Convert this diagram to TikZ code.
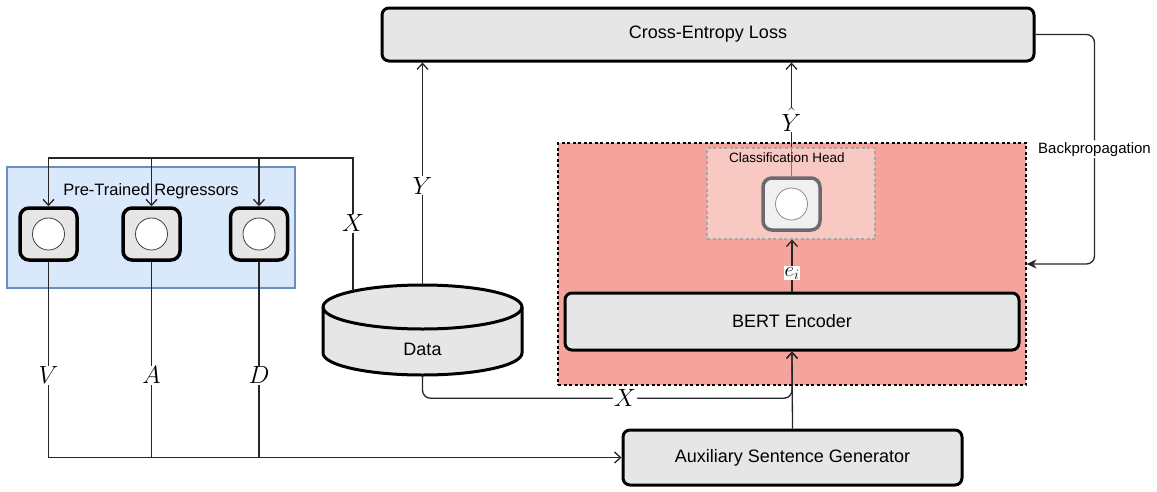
\documentclass[tikz,border=0pt]{standalone}
\usepackage[no-math]{fontspec}
\setmainfont{Liberation Sans}
\usetikzlibrary{arrows.meta}
\definecolor{boxgray}{HTML}{E6E6E6}
\definecolor{bluefill}{HTML}{DAE8FC}
\definecolor{bluebd}{HTML}{6C8EBF}
\definecolor{redfill}{HTML}{F4A49C}
\definecolor{nodegray}{HTML}{F0F0F0}
\pgfdeclarelayer{bg}
\pgfdeclarelayer{mid}
\pgfsetlayers{bg,mid,main}
\begin{document}
\begin{tikzpicture}[x=1pt,y=-1pt,
  box/.style={draw=black, line width=3pt, rounded corners=7pt, fill=boxgray,
    font=\fontsize{18}{21}\selectfont, inner sep=0pt},
  regbox/.style={draw=black, line width=3.5pt, rounded corners=9pt, fill=boxgray,
    minimum width=57pt, minimum height=52pt, inner sep=0pt},
  neuron/.style={circle, draw=black!75, line width=0.8pt, fill=white,
    minimum size=32pt, inner sep=0pt},
  conn/.style={line width=1.3pt, draw=black!85},
  arr/.style={conn, -{Straight Barb[length=6pt,width=11pt]}},
  mathlbl/.style={fill=white, inner sep=1pt, font=\fontsize{25}{25}\selectfont},
  grouplbl/.style={font=\fontsize{16.5}{18}\selectfont, inner sep=0pt},
]
\useasboundingbox (0,0) rectangle (1157,491);

% containers
\begin{pgfonlayer}{bg}
\node[draw=bluebd, line width=1.2pt, fill=bluefill, minimum width=288pt,
  minimum height=121pt, inner sep=0pt] (regs) at (151,227.5) {};
\node[draw=black, dash pattern=on 3pt off 2.5pt, line width=1.2pt, fill=redfill, minimum width=468pt,
  minimum height=242pt, inner sep=0pt] (enc) at (792,264) {};
\end{pgfonlayer}

\node[grouplbl] (regslbl) at (151,191) {Pre-Trained Regressors};

% main boxes
\node[box, minimum width=652pt, minimum height=53pt] (ce) at (708,34.5) {Cross-Entropy Loss};
\node[box, minimum width=454pt, minimum height=57pt] (bert) at (792,321.5) {BERT Encoder};
\node[box, minimum width=339pt, minimum height=55pt] (aux) at (792.5,457.5) {Auxiliary Sentence Generator};

% classification head
\node[draw=black!35, dash pattern=on 3pt off 2.5pt, line width=1.2pt, fill=white, fill opacity=0.4,
  draw opacity=1, minimum width=168pt, minimum height=91pt, inner sep=0pt] (clshead) at (791,193.5) {};
\node[font=\fontsize{13.5}{15}\selectfont, inner sep=0pt] (clslbl) at (787,158) {Classification Head};
\node[regbox, draw=black!58, fill=nodegray] (clsnode) at (791.5,204) {};
\node[neuron, draw=black!45] (clsn) at (clsnode.center) {};

% regressors
\node[regbox] (r1) at (48.5,234) {};
\node[regbox] (r2) at (151.5,234) {};
\node[regbox] (r3) at (259,234) {};
\node[neuron] (n1) at (r1.center) {};
\node[neuron] (n2) at (r2.center) {};
\node[neuron] (n3) at (r3.center) {};

% data cylinder
\draw[line width=3pt, fill=boxgray] (323,307) -- (323,353)
  arc[start angle=180, end angle=360, x radius=99.5pt, y radius=22pt] -- (522,307)
  arc[start angle=0, end angle=180, x radius=99.5pt, y radius=22pt] -- cycle;
\draw[line width=3pt] (323,307) arc[start angle=180, end angle=360, x radius=99.5pt, y radius=22pt];
\node[minimum width=199pt, minimum height=90pt, inner sep=0pt] (data) at (422.5,330) {};
\node[font=\fontsize{18}{21}\selectfont, inner sep=0pt] (datalbl) at (422.5,349) {Data};
\coordinate (xbase) at (353,291);

% connectors
\draw[arr] (xbase) -- node[mathlbl, pos=0.51] {$X$} (xbase |- 0,158) -| (r1.north);
\draw[arr] (r2.north |- 0,158) -- (r2.north);
\draw[arr] (r3.north |- 0,158) -- (r3.north);

\draw[arr] (r1.south) -- node[mathlbl, pos=0.58] {$V$} (r1.south |- aux.west) -- (aux.west);
\draw[conn] (r2.south) -- node[mathlbl, pos=0.58] {$A$} (r2.south |- aux.west);
\draw[conn] (r3.south) -- node[mathlbl, pos=0.58] {$D$} (r3.south |- aux.west);

\draw[arr] (data.north) -- node[mathlbl, pos=0.446] {$Y$} (data.north |- ce.south);
\draw[arr, rounded corners=8pt] (data.south) -- ++(0,23) -| node[mathlbl, pos=0.274] {$X$} (bert.south);
\draw[arr] (aux.north) -- (bert.south);
\draw[arr] (bert.north) -- node[fill=white, inner sep=1pt, font=\fontsize{22}{22}\selectfont, pos=0.35] {$e_i$} (bert.north |- clshead.south);
\begin{pgfonlayer}{mid}
\draw[arr] (clsnode.north) -- node[mathlbl, pos=0.5] {$\hat{Y}$} (clsnode.north |- ce.south);
\end{pgfonlayer}
\draw[conn, rounded corners=8pt, -{Stealth[length=10pt,width=9pt]}] (ce.east) -- ++(59,0)
  |- node[pos=0.25, fill=white, inner sep=2pt, font=\fontsize{15}{17}\selectfont] {Backpropagation} (enc.east);
\end{tikzpicture}
\end{document}
